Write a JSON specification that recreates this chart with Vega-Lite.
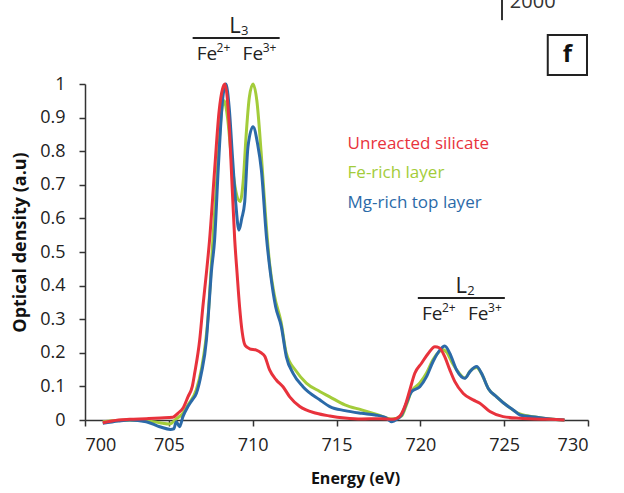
{
  "$schema": "https://vega.github.io/schema/vega-lite/v6.json",
  "width": 503,
  "height": 336,
  "autosize": {"type": "none"},
  "padding": {"left": 85, "top": 84, "right": 36, "bottom": 73},
  "background": "white",
  "config": {
    "view": {"stroke": null},
    "font": "Open Sans",
    "axis": {"labelFont": "Open Sans", "titleFont": "Open Sans", "grid": false, "domainColor": "#333", "tickColor": "#333", "labelColor": "#222", "titleColor": "#111", "labelOverlap": false}
  },
  "encoding": {
    "x": {"field": "energy", "type": "quantitative",
      "scale": {"domain": [700, 730], "nice": false, "zero": false},
      "axis": {"values": [700, 705, 710, 715, 720, 725, 730], "title": "Energy (eV)", "labelFontSize": 18, "tickSize": 6, "labelPadding": 10, "titleFontSize": 16, "titleFontWeight": "bold", "titlePadding": 16, "titleX": 270, "domainWidth": 1.5, "tickWidth": 1.5}},
    "y": {"field": "od", "type": "quantitative",
      "scale": {"domain": [0, 1], "nice": false, "zero": false},
      "axis": {"values": [0, 0.1, 0.2, 0.3, 0.4, 0.5, 0.6, 0.7, 0.8, 0.9, 1], "format": "~g", "title": "Optical density (a.u)", "labelFontSize": 18, "tickSize": 6, "labelPadding": 14, "titleFontSize": 18, "titleFontWeight": "bold", "titlePadding": 10, "titleY": 158, "domainWidth": 1.5, "tickWidth": 1.5}}
  },
  "layer": [
    {
      "data": {"values": [
        {"series": "Fe-rich layer", "energy": 701.06, "od": -0.005},
        {"series": "Fe-rich layer", "energy": 702.66, "od": 0.0},
        {"series": "Fe-rich layer", "energy": 703.65, "od": -0.002},
        {"series": "Fe-rich layer", "energy": 704.45, "od": -0.008},
        {"series": "Fe-rich layer", "energy": 705.04, "od": -0.012},
        {"series": "Fe-rich layer", "energy": 705.44, "od": 0.003},
        {"series": "Fe-rich layer", "energy": 705.84, "od": 0.02},
        {"series": "Fe-rich layer", "energy": 706.14, "od": 0.045},
        {"series": "Fe-rich layer", "energy": 706.64, "od": 0.09},
        {"series": "Fe-rich layer", "energy": 706.94, "od": 0.15},
        {"series": "Fe-rich layer", "energy": 707.33, "od": 0.3},
        {"series": "Fe-rich layer", "energy": 707.59, "od": 0.506},
        {"series": "Fe-rich layer", "energy": 707.9, "od": 0.75},
        {"series": "Fe-rich layer", "energy": 708.15, "od": 0.92},
        {"series": "Fe-rich layer", "energy": 708.3, "od": 0.95},
        {"series": "Fe-rich layer", "energy": 708.5, "od": 0.9},
        {"series": "Fe-rich layer", "energy": 708.75, "od": 0.77},
        {"series": "Fe-rich layer", "energy": 709.0, "od": 0.68},
        {"series": "Fe-rich layer", "energy": 709.25, "od": 0.65},
        {"series": "Fe-rich layer", "energy": 709.45, "od": 0.72},
        {"series": "Fe-rich layer", "energy": 709.6, "od": 0.84},
        {"series": "Fe-rich layer", "energy": 709.8, "od": 0.96},
        {"series": "Fe-rich layer", "energy": 710.02, "od": 1.0},
        {"series": "Fe-rich layer", "energy": 710.25, "od": 0.95},
        {"series": "Fe-rich layer", "energy": 710.5, "od": 0.8},
        {"series": "Fe-rich layer", "energy": 710.75, "od": 0.62},
        {"series": "Fe-rich layer", "energy": 711.0, "od": 0.47},
        {"series": "Fe-rich layer", "energy": 711.3, "od": 0.37},
        {"series": "Fe-rich layer", "energy": 711.7, "od": 0.29},
        {"series": "Fe-rich layer", "energy": 712.0, "od": 0.2},
        {"series": "Fe-rich layer", "energy": 712.6, "od": 0.145},
        {"series": "Fe-rich layer", "energy": 713.2, "od": 0.11},
        {"series": "Fe-rich layer", "energy": 714.0, "od": 0.085},
        {"series": "Fe-rich layer", "energy": 714.6, "od": 0.069},
        {"series": "Fe-rich layer", "energy": 715.5, "od": 0.045},
        {"series": "Fe-rich layer", "energy": 716.5, "od": 0.03},
        {"series": "Fe-rich layer", "energy": 717.5, "od": 0.015},
        {"series": "Fe-rich layer", "energy": 718.3, "od": 0.003},
        {"series": "Fe-rich layer", "energy": 718.88, "od": 0.012},
        {"series": "Fe-rich layer", "energy": 719.17, "od": 0.045},
        {"series": "Fe-rich layer", "energy": 719.47, "od": 0.085},
        {"series": "Fe-rich layer", "energy": 719.97, "od": 0.11},
        {"series": "Fe-rich layer", "energy": 720.37, "od": 0.14},
        {"series": "Fe-rich layer", "energy": 720.76, "od": 0.18},
        {"series": "Fe-rich layer", "energy": 721.16, "od": 0.205},
        {"series": "Fe-rich layer", "energy": 721.3, "od": 0.21},
        {"series": "Fe-rich layer", "energy": 721.6, "od": 0.2},
        {"series": "Fe-rich layer", "energy": 721.9, "od": 0.17},
        {"series": "Fe-rich layer", "energy": 722.16, "od": 0.15},
        {"series": "Fe-rich layer", "energy": 722.66, "od": 0.125},
        {"series": "Fe-rich layer", "energy": 722.96, "od": 0.145},
        {"series": "Fe-rich layer", "energy": 723.36, "od": 0.156},
        {"series": "Fe-rich layer", "energy": 723.65, "od": 0.138},
        {"series": "Fe-rich layer", "energy": 724.05, "od": 0.094},
        {"series": "Fe-rich layer", "energy": 724.55, "od": 0.069},
        {"series": "Fe-rich layer", "energy": 725.24, "od": 0.04},
        {"series": "Fe-rich layer", "energy": 725.94, "od": 0.018},
        {"series": "Fe-rich layer", "energy": 726.94, "od": 0.008},
        {"series": "Fe-rich layer", "energy": 727.73, "od": 0.003},
        {"series": "Fe-rich layer", "energy": 728.6, "od": 0.0},
        {"series": "Mg-rich top layer", "energy": 701.06, "od": -0.01},
        {"series": "Mg-rich top layer", "energy": 702.0, "od": -0.003},
        {"series": "Mg-rich top layer", "energy": 702.66, "od": 0.0},
        {"series": "Mg-rich top layer", "energy": 703.65, "od": -0.005},
        {"series": "Mg-rich top layer", "energy": 704.45, "od": -0.02},
        {"series": "Mg-rich top layer", "energy": 705.1, "od": -0.028},
        {"series": "Mg-rich top layer", "energy": 705.3, "od": -0.026},
        {"series": "Mg-rich top layer", "energy": 705.44, "od": -0.005},
        {"series": "Mg-rich top layer", "energy": 705.64, "od": -0.02},
        {"series": "Mg-rich top layer", "energy": 705.84, "od": 0.01},
        {"series": "Mg-rich top layer", "energy": 706.14, "od": 0.04},
        {"series": "Mg-rich top layer", "energy": 706.4, "od": 0.06},
        {"series": "Mg-rich top layer", "energy": 706.64, "od": 0.079},
        {"series": "Mg-rich top layer", "energy": 706.94, "od": 0.139},
        {"series": "Mg-rich top layer", "energy": 707.24, "od": 0.238},
        {"series": "Mg-rich top layer", "energy": 707.39, "od": 0.337},
        {"series": "Mg-rich top layer", "energy": 707.53, "od": 0.437},
        {"series": "Mg-rich top layer", "energy": 707.73, "od": 0.536},
        {"series": "Mg-rich top layer", "energy": 707.95, "od": 0.75},
        {"series": "Mg-rich top layer", "energy": 708.2, "od": 0.95},
        {"series": "Mg-rich top layer", "energy": 708.4, "od": 1.0},
        {"series": "Mg-rich top layer", "energy": 708.6, "od": 0.93},
        {"series": "Mg-rich top layer", "energy": 708.8, "od": 0.78},
        {"series": "Mg-rich top layer", "energy": 709.0, "od": 0.64},
        {"series": "Mg-rich top layer", "energy": 709.18, "od": 0.565},
        {"series": "Mg-rich top layer", "energy": 709.35, "od": 0.6},
        {"series": "Mg-rich top layer", "energy": 709.52, "od": 0.646},
        {"series": "Mg-rich top layer", "energy": 709.72, "od": 0.813},
        {"series": "Mg-rich top layer", "energy": 710.02, "od": 0.873},
        {"series": "Mg-rich top layer", "energy": 710.3, "od": 0.82},
        {"series": "Mg-rich top layer", "energy": 710.52, "od": 0.744},
        {"series": "Mg-rich top layer", "energy": 710.82, "od": 0.546},
        {"series": "Mg-rich top layer", "energy": 711.06, "od": 0.437},
        {"series": "Mg-rich top layer", "energy": 711.37, "od": 0.337},
        {"series": "Mg-rich top layer", "energy": 711.71, "od": 0.278},
        {"series": "Mg-rich top layer", "energy": 712.01, "od": 0.188},
        {"series": "Mg-rich top layer", "energy": 712.41, "od": 0.139},
        {"series": "Mg-rich top layer", "energy": 713.0, "od": 0.099},
        {"series": "Mg-rich top layer", "energy": 714.0, "od": 0.06},
        {"series": "Mg-rich top layer", "energy": 714.6, "od": 0.04},
        {"series": "Mg-rich top layer", "energy": 715.5, "od": 0.028},
        {"series": "Mg-rich top layer", "energy": 716.5, "od": 0.02},
        {"series": "Mg-rich top layer", "energy": 717.3, "od": 0.015},
        {"series": "Mg-rich top layer", "energy": 717.9, "od": 0.008},
        {"series": "Mg-rich top layer", "energy": 718.3, "od": -0.005},
        {"series": "Mg-rich top layer", "energy": 718.6, "od": 0.002},
        {"series": "Mg-rich top layer", "energy": 718.88, "od": 0.015},
        {"series": "Mg-rich top layer", "energy": 719.17, "od": 0.05},
        {"series": "Mg-rich top layer", "energy": 719.47, "od": 0.084},
        {"series": "Mg-rich top layer", "energy": 719.97, "od": 0.099},
        {"series": "Mg-rich top layer", "energy": 720.37, "od": 0.129},
        {"series": "Mg-rich top layer", "energy": 720.76, "od": 0.174},
        {"series": "Mg-rich top layer", "energy": 721.16, "od": 0.208},
        {"series": "Mg-rich top layer", "energy": 721.46, "od": 0.22},
        {"series": "Mg-rich top layer", "energy": 721.76, "od": 0.198},
        {"series": "Mg-rich top layer", "energy": 722.16, "od": 0.149},
        {"series": "Mg-rich top layer", "energy": 722.66, "od": 0.124},
        {"series": "Mg-rich top layer", "energy": 722.96, "od": 0.144},
        {"series": "Mg-rich top layer", "energy": 723.36, "od": 0.159},
        {"series": "Mg-rich top layer", "energy": 723.65, "od": 0.139},
        {"series": "Mg-rich top layer", "energy": 724.05, "od": 0.094},
        {"series": "Mg-rich top layer", "energy": 724.55, "od": 0.069},
        {"series": "Mg-rich top layer", "energy": 725.24, "od": 0.04},
        {"series": "Mg-rich top layer", "energy": 725.54, "od": 0.03},
        {"series": "Mg-rich top layer", "energy": 725.94, "od": 0.015},
        {"series": "Mg-rich top layer", "energy": 726.94, "od": 0.008},
        {"series": "Mg-rich top layer", "energy": 727.73, "od": 0.003},
        {"series": "Mg-rich top layer", "energy": 728.6, "od": 0.0},
        {"series": "Unreacted silicate", "energy": 701.06, "od": -0.008},
        {"series": "Unreacted silicate", "energy": 702.0, "od": 0.0},
        {"series": "Unreacted silicate", "energy": 702.66, "od": 0.002},
        {"series": "Unreacted silicate", "energy": 703.65, "od": 0.004},
        {"series": "Unreacted silicate", "energy": 704.5, "od": 0.006},
        {"series": "Unreacted silicate", "energy": 705.24, "od": 0.008},
        {"series": "Unreacted silicate", "energy": 705.54, "od": 0.02},
        {"series": "Unreacted silicate", "energy": 705.84, "od": 0.035},
        {"series": "Unreacted silicate", "energy": 706.14, "od": 0.069},
        {"series": "Unreacted silicate", "energy": 706.4, "od": 0.1},
        {"series": "Unreacted silicate", "energy": 706.54, "od": 0.139},
        {"series": "Unreacted silicate", "energy": 706.84, "od": 0.238},
        {"series": "Unreacted silicate", "energy": 707.03, "od": 0.337},
        {"series": "Unreacted silicate", "energy": 707.24, "od": 0.437},
        {"series": "Unreacted silicate", "energy": 707.43, "od": 0.536},
        {"series": "Unreacted silicate", "energy": 707.73, "od": 0.744},
        {"series": "Unreacted silicate", "energy": 708.0, "od": 0.92},
        {"series": "Unreacted silicate", "energy": 708.2, "od": 0.985},
        {"series": "Unreacted silicate", "energy": 708.34, "od": 1.0},
        {"series": "Unreacted silicate", "energy": 708.5, "od": 0.95},
        {"series": "Unreacted silicate", "energy": 708.62, "od": 0.86},
        {"series": "Unreacted silicate", "energy": 708.73, "od": 0.744},
        {"series": "Unreacted silicate", "energy": 708.93, "od": 0.536},
        {"series": "Unreacted silicate", "energy": 709.07, "od": 0.437},
        {"series": "Unreacted silicate", "energy": 709.22, "od": 0.337},
        {"series": "Unreacted silicate", "energy": 709.38, "od": 0.26},
        {"series": "Unreacted silicate", "energy": 709.55, "od": 0.222},
        {"series": "Unreacted silicate", "energy": 709.82, "od": 0.212},
        {"series": "Unreacted silicate", "energy": 710.22, "od": 0.208},
        {"series": "Unreacted silicate", "energy": 710.5, "od": 0.2},
        {"series": "Unreacted silicate", "energy": 710.72, "od": 0.19},
        {"series": "Unreacted silicate", "energy": 711.01, "od": 0.149},
        {"series": "Unreacted silicate", "energy": 711.41, "od": 0.119},
        {"series": "Unreacted silicate", "energy": 711.81, "od": 0.099},
        {"series": "Unreacted silicate", "energy": 712.21, "od": 0.069},
        {"series": "Unreacted silicate", "energy": 712.81, "od": 0.04},
        {"series": "Unreacted silicate", "energy": 713.8, "od": 0.02},
        {"series": "Unreacted silicate", "energy": 714.6, "od": 0.012},
        {"series": "Unreacted silicate", "energy": 715.5, "od": 0.006},
        {"series": "Unreacted silicate", "energy": 716.5, "od": 0.003},
        {"series": "Unreacted silicate", "energy": 717.58, "od": 0.004},
        {"series": "Unreacted silicate", "energy": 718.38, "od": 0.002},
        {"series": "Unreacted silicate", "energy": 718.78, "od": 0.012},
        {"series": "Unreacted silicate", "energy": 719.07, "od": 0.04},
        {"series": "Unreacted silicate", "energy": 719.37, "od": 0.089},
        {"series": "Unreacted silicate", "energy": 719.67, "od": 0.139},
        {"series": "Unreacted silicate", "energy": 720.07, "od": 0.169},
        {"series": "Unreacted silicate", "energy": 720.47, "od": 0.198},
        {"series": "Unreacted silicate", "energy": 720.87, "od": 0.218},
        {"series": "Unreacted silicate", "energy": 721.13, "od": 0.215},
        {"series": "Unreacted silicate", "energy": 721.46, "od": 0.188},
        {"series": "Unreacted silicate", "energy": 721.76, "od": 0.149},
        {"series": "Unreacted silicate", "energy": 722.06, "od": 0.114},
        {"series": "Unreacted silicate", "energy": 722.56, "od": 0.079},
        {"series": "Unreacted silicate", "energy": 723.15, "od": 0.06},
        {"series": "Unreacted silicate", "energy": 723.55, "od": 0.05},
        {"series": "Unreacted silicate", "energy": 724.15, "od": 0.025},
        {"series": "Unreacted silicate", "energy": 724.94, "od": 0.01},
        {"series": "Unreacted silicate", "energy": 725.94, "od": 0.005},
        {"series": "Unreacted silicate", "energy": 726.8, "od": 0.003},
        {"series": "Unreacted silicate", "energy": 727.73, "od": 0.002},
        {"series": "Unreacted silicate", "energy": 728.6, "od": 0.0}
      ]},
      "mark": {"type": "line", "strokeWidth": 3, "interpolate": "monotone"},
      "encoding": {
        "color": {"field": "series", "type": "nominal",
          "scale": {"domain": ["Unreacted silicate", "Fe-rich layer", "Mg-rich top layer"], "range": ["#e8323c", "#a3cc3a", "#2b6aa8"]},
          "legend": null}
      }
    },
    {
      "data": {"values": [
        {"series": "Unreacted silicate", "energy": 715.66, "od": 0.821},
        {"series": "Fe-rich layer", "energy": 715.66, "od": 0.735},
        {"series": "Mg-rich top layer", "energy": 715.66, "od": 0.646}
      ]},
      "mark": {"type": "text", "align": "left", "baseline": "middle", "font": "Open Sans", "fontSize": 17},
      "encoding": {
        "text": {"field": "series"},
        "color": {"field": "series", "type": "nominal", "legend": null}
      }
    },
    {
      "data": {"values": [
        {"energy": 706.42, "energy2": 711.61, "od": 1.137},
        {"energy": 719.85, "energy2": 725.04, "od": 0.363}
      ]},
      "mark": {"type": "rule", "strokeWidth": 2, "color": "#222"},
      "encoding": {
        "x2": {"field": "energy2"}
      }
    },
    {
      "data": {"values": [
        {"t": "L", "energy": 708.6, "od": 1.152, "size": 22},
        {"t": "3", "energy": 709.3, "od": 1.147, "size": 13},
        {"t": "Fe", "energy": 706.66, "od": 1.071, "size": 19},
        {"t": "2+", "energy": 707.85, "od": 1.095, "size": 12},
        {"t": "Fe", "energy": 709.4, "od": 1.071, "size": 19},
        {"t": "3+", "energy": 710.6, "od": 1.095, "size": 12},
        {"t": "L", "energy": 722.1, "od": 0.378, "size": 22},
        {"t": "2", "energy": 722.8, "od": 0.373, "size": 13},
        {"t": "Fe", "energy": 720.1, "od": 0.297, "size": 19},
        {"t": "2+", "energy": 721.29, "od": 0.321, "size": 12},
        {"t": "Fe", "energy": 722.84, "od": 0.297, "size": 19},
        {"t": "3+", "energy": 724.04, "od": 0.321, "size": 12}
      ]},
      "mark": {"type": "text", "align": "left", "baseline": "alphabetic", "font": "Open Sans", "color": "#222"},
      "encoding": {
        "text": {"field": "t"},
        "size": {"field": "size", "type": "quantitative", "scale": null, "legend": null}
      }
    },
    {
      "data": {"values": [{"energy": 727.6, "energy2": 729.94, "od": 1.146, "od2": 1.027}]},
      "mark": {"type": "rect", "fill": "white", "stroke": "#222", "strokeWidth": 2},
      "encoding": {
        "x2": {"field": "energy2"},
        "y2": {"field": "od2"}
      }
    },
    {
      "data": {"values": [{"t": "f", "energy": 728.77, "od": 1.086}]},
      "mark": {"type": "text", "font": "Open Sans", "fontWeight": "bold", "fontSize": 24, "align": "center", "baseline": "middle", "color": "#111"},
      "encoding": {
        "text": {"field": "t"}
      }
    },
    {
      "data": {"values": [{"energy": 724.87, "od": 1.25, "od2": 1.19}]},
      "mark": {"type": "rule", "strokeWidth": 2, "color": "#333"},
      "encoding": {
        "y2": {"field": "od2"}
      }
    },
    {
      "data": {"values": [{"t": "2000", "energy": 725.34, "od": 1.226}]},
      "mark": {"type": "text", "font": "Open Sans", "fontSize": 20, "align": "left", "baseline": "alphabetic", "color": "#333"},
      "encoding": {
        "text": {"field": "t"}
      }
    }
  ]
}
